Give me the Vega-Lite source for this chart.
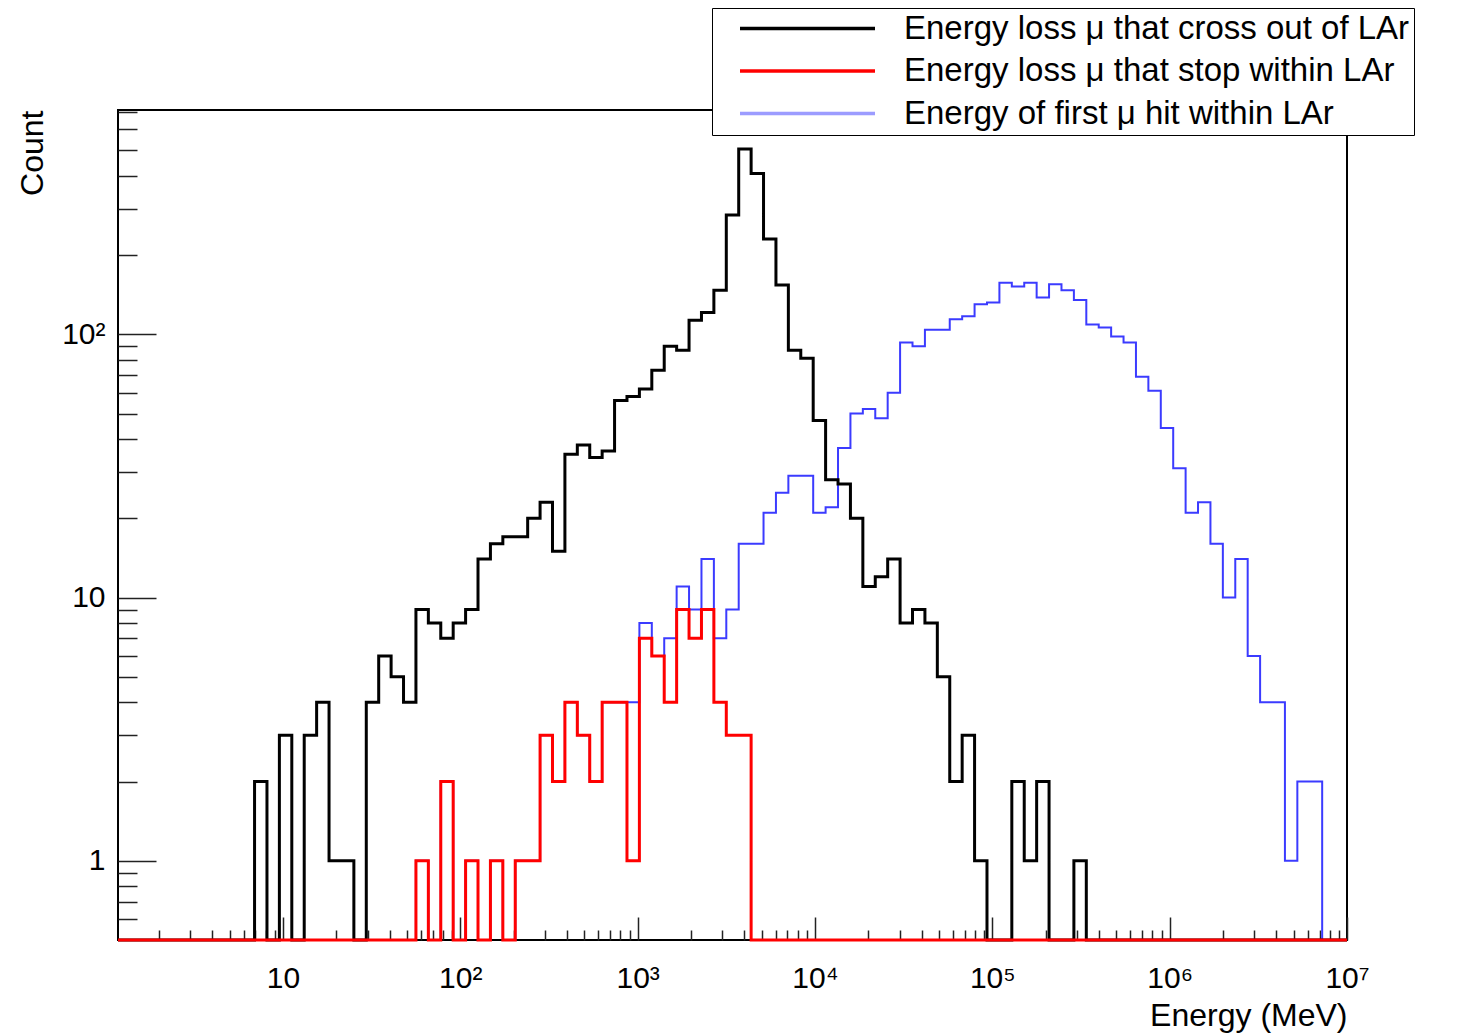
{
  "$schema": "https://vega.github.io/schema/vega-lite/v6.json",
  "width": 1229,
  "height": 830,
  "autosize": {"type": "none"},
  "padding": {"left": 118, "top": 110, "right": 122, "bottom": 93},
  "background": "white",
  "config": {"view": {"stroke": "#000", "strokeWidth": 2}, "font": "Liberation Sans"},
  "datasets": {
    "names": [
      {"key": "cross", "series": "Energy loss μ that cross out of LAr"},
      {"key": "stop", "series": "Energy loss μ that stop within LAr"},
      {"key": "first", "series": "Energy of first μ hit within LAr"}
    ],
    "bins": [
      {"lo": 1.1749, "hi": 1.3804, "cross": 0, "stop": 0, "first": 0},
      {"lo": 1.3804, "hi": 1.6218, "cross": 0, "stop": 0, "first": 0},
      {"lo": 1.6218, "hi": 1.9055, "cross": 0, "stop": 0, "first": 0},
      {"lo": 1.9055, "hi": 2.2387, "cross": 0, "stop": 0, "first": 0},
      {"lo": 2.2387, "hi": 2.6303, "cross": 0, "stop": 0, "first": 0},
      {"lo": 2.6303, "hi": 3.0903, "cross": 0, "stop": 0, "first": 0},
      {"lo": 3.0903, "hi": 3.6308, "cross": 0, "stop": 0, "first": 0},
      {"lo": 3.6308, "hi": 4.2658, "cross": 0, "stop": 0, "first": 0},
      {"lo": 4.2658, "hi": 5.0119, "cross": 0, "stop": 0, "first": 0},
      {"lo": 5.0119, "hi": 5.8884, "cross": 0, "stop": 0, "first": 0},
      {"lo": 5.8884, "hi": 6.9183, "cross": 0, "stop": 0, "first": 0},
      {"lo": 6.9183, "hi": 8.1283, "cross": 2, "stop": 0, "first": 0},
      {"lo": 8.1283, "hi": 9.5499, "cross": 0, "stop": 0, "first": 0},
      {"lo": 9.5499, "hi": 11.22, "cross": 3, "stop": 0, "first": 0},
      {"lo": 11.22, "hi": 13.183, "cross": 0, "stop": 0, "first": 0},
      {"lo": 13.183, "hi": 15.488, "cross": 3, "stop": 0, "first": 0},
      {"lo": 15.488, "hi": 18.197, "cross": 4, "stop": 0, "first": 0},
      {"lo": 18.197, "hi": 21.38, "cross": 1, "stop": 0, "first": 0},
      {"lo": 21.38, "hi": 25.119, "cross": 1, "stop": 0, "first": 0},
      {"lo": 25.119, "hi": 29.512, "cross": 0, "stop": 0, "first": 0},
      {"lo": 29.512, "hi": 34.674, "cross": 4, "stop": 0, "first": 0},
      {"lo": 34.674, "hi": 40.738, "cross": 6, "stop": 0, "first": 0},
      {"lo": 40.738, "hi": 47.863, "cross": 5, "stop": 0, "first": 0},
      {"lo": 47.863, "hi": 56.234, "cross": 4, "stop": 0, "first": 0},
      {"lo": 56.234, "hi": 66.069, "cross": 9, "stop": 1, "first": 1},
      {"lo": 66.069, "hi": 77.625, "cross": 8, "stop": 0, "first": 0},
      {"lo": 77.625, "hi": 91.201, "cross": 7, "stop": 2, "first": 2},
      {"lo": 91.201, "hi": 107.15, "cross": 8, "stop": 0, "first": 0},
      {"lo": 107.15, "hi": 125.89, "cross": 9, "stop": 1, "first": 1},
      {"lo": 125.89, "hi": 147.91, "cross": 14, "stop": 0, "first": 0},
      {"lo": 147.91, "hi": 173.78, "cross": 16, "stop": 1, "first": 1},
      {"lo": 173.78, "hi": 204.17, "cross": 17, "stop": 0, "first": 0},
      {"lo": 204.17, "hi": 239.88, "cross": 17, "stop": 1, "first": 1},
      {"lo": 239.88, "hi": 281.84, "cross": 20, "stop": 1, "first": 1},
      {"lo": 281.84, "hi": 331.13, "cross": 23, "stop": 3, "first": 3},
      {"lo": 331.13, "hi": 389.05, "cross": 15, "stop": 2, "first": 2},
      {"lo": 389.05, "hi": 457.09, "cross": 35, "stop": 4, "first": 4},
      {"lo": 457.09, "hi": 537.03, "cross": 38, "stop": 3, "first": 3},
      {"lo": 537.03, "hi": 630.96, "cross": 34, "stop": 2, "first": 2},
      {"lo": 630.96, "hi": 741.31, "cross": 36, "stop": 4, "first": 4},
      {"lo": 741.31, "hi": 870.96, "cross": 56, "stop": 4, "first": 4},
      {"lo": 870.96, "hi": 1023.3, "cross": 58, "stop": 1, "first": 4},
      {"lo": 1023.3, "hi": 1202.3, "cross": 62, "stop": 7, "first": 8},
      {"lo": 1202.3, "hi": 1412.5, "cross": 73, "stop": 6, "first": 6},
      {"lo": 1412.5, "hi": 1659.6, "cross": 90, "stop": 4, "first": 7},
      {"lo": 1659.6, "hi": 1949.8, "cross": 87, "stop": 9, "first": 11},
      {"lo": 1949.8, "hi": 2290.9, "cross": 113, "stop": 7, "first": 9},
      {"lo": 2290.9, "hi": 2691.5, "cross": 121, "stop": 9, "first": 14},
      {"lo": 2691.5, "hi": 3162.3, "cross": 147, "stop": 4, "first": 7},
      {"lo": 3162.3, "hi": 3715.4, "cross": 284, "stop": 3, "first": 9},
      {"lo": 3715.4, "hi": 4365.2, "cross": 506, "stop": 3, "first": 16},
      {"lo": 4365.2, "hi": 5128.6, "cross": 408, "stop": 0, "first": 16},
      {"lo": 5128.6, "hi": 6025.6, "cross": 230, "stop": 0, "first": 21},
      {"lo": 6025.6, "hi": 7079.5, "cross": 154, "stop": 0, "first": 25},
      {"lo": 7079.5, "hi": 8317.6, "cross": 87, "stop": 0, "first": 29},
      {"lo": 8317.6, "hi": 9772.4, "cross": 81, "stop": 0, "first": 29},
      {"lo": 9772.4, "hi": 11482, "cross": 47, "stop": 0, "first": 21},
      {"lo": 11482, "hi": 13490, "cross": 28, "stop": 0, "first": 22},
      {"lo": 13490, "hi": 15849, "cross": 27, "stop": 0, "first": 37},
      {"lo": 15849, "hi": 18621, "cross": 20, "stop": 0, "first": 50},
      {"lo": 18621, "hi": 21878, "cross": 11, "stop": 0, "first": 52},
      {"lo": 21878, "hi": 25704, "cross": 12, "stop": 0, "first": 48},
      {"lo": 25704, "hi": 30200, "cross": 14, "stop": 0, "first": 60},
      {"lo": 30200, "hi": 35481, "cross": 8, "stop": 0, "first": 93},
      {"lo": 35481, "hi": 41687, "cross": 9, "stop": 0, "first": 90},
      {"lo": 41687, "hi": 48978, "cross": 8, "stop": 0, "first": 104},
      {"lo": 48978, "hi": 57544, "cross": 5, "stop": 0, "first": 104},
      {"lo": 57544, "hi": 67608, "cross": 2, "stop": 0, "first": 114},
      {"lo": 67608, "hi": 79433, "cross": 3, "stop": 0, "first": 117},
      {"lo": 79433, "hi": 93325, "cross": 1, "stop": 0, "first": 130},
      {"lo": 93325, "hi": 109650, "cross": 0, "stop": 0, "first": 132},
      {"lo": 109650, "hi": 128825, "cross": 0, "stop": 0, "first": 157},
      {"lo": 128825, "hi": 151356, "cross": 2, "stop": 0, "first": 152},
      {"lo": 151356, "hi": 177828, "cross": 1, "stop": 0, "first": 157},
      {"lo": 177828, "hi": 208930, "cross": 2, "stop": 0, "first": 138},
      {"lo": 208930, "hi": 245471, "cross": 0, "stop": 0, "first": 155},
      {"lo": 245471, "hi": 288403, "cross": 0, "stop": 0, "first": 147},
      {"lo": 288403, "hi": 338844, "cross": 1, "stop": 0, "first": 135},
      {"lo": 338844, "hi": 398107, "cross": 0, "stop": 0, "first": 109},
      {"lo": 398107, "hi": 467735, "cross": 0, "stop": 0, "first": 106},
      {"lo": 467735, "hi": 549541, "cross": 0, "stop": 0, "first": 98},
      {"lo": 549541, "hi": 645654, "cross": 0, "stop": 0, "first": 93},
      {"lo": 645654, "hi": 758578, "cross": 0, "stop": 0, "first": 69},
      {"lo": 758578, "hi": 891251, "cross": 0, "stop": 0, "first": 61},
      {"lo": 891251, "hi": 1047129, "cross": 0, "stop": 0, "first": 44},
      {"lo": 1047129, "hi": 1230269, "cross": 0, "stop": 0, "first": 31},
      {"lo": 1230269, "hi": 1445440, "cross": 0, "stop": 0, "first": 21},
      {"lo": 1445440, "hi": 1698244, "cross": 0, "stop": 0, "first": 23},
      {"lo": 1698244, "hi": 1995262, "cross": 0, "stop": 0, "first": 16},
      {"lo": 1995262, "hi": 2344229, "cross": 0, "stop": 0, "first": 10},
      {"lo": 2344229, "hi": 2754229, "cross": 0, "stop": 0, "first": 14},
      {"lo": 2754229, "hi": 3235937, "cross": 0, "stop": 0, "first": 6},
      {"lo": 3235937, "hi": 3801894, "cross": 0, "stop": 0, "first": 4},
      {"lo": 3801894, "hi": 4466836, "cross": 0, "stop": 0, "first": 4},
      {"lo": 4466836, "hi": 5248075, "cross": 0, "stop": 0, "first": 1},
      {"lo": 5248075, "hi": 6165950, "cross": 0, "stop": 0, "first": 2},
      {"lo": 6165950, "hi": 7244360, "cross": 0, "stop": 0, "first": 2},
      {"lo": 7244360, "hi": 8511380, "cross": 0, "stop": 0, "first": 0},
      {"lo": 8511380, "hi": 10000000, "cross": 0, "stop": 0, "first": 0}
    ]
  },
  "data": {"name": "bins"},
  "transform": [
    {"fold": ["cross", "stop", "first"], "as": ["key", "count"]},
    {"lookup": "key", "from": {"data": {"name": "names"}, "key": "key", "fields": ["series"]}},
    {"fold": ["lo", "hi"], "as": ["edge", "E"]}
  ],
  "layer": [
    {
      "transform": [{"filter": "datum.key === 'first'"}],
      "mark": {"type": "line", "strokeWidth": 2, "invalid": "show", "strokeJoin": "miter"},
      "encoding": {
        "x": {"field": "E", "type": "quantitative",
          "scale": {"type": "log", "domain": [1.1749, 10000000], "nice": false, "clamp": true},
          "axis": {"orient": "bottom", "values": [10, 100, 1000, 10000, 100000, 1000000, 10000000],
            "tickSize": -23, "tickWidth": 1.5, "tickColor": "#222", "domain": false, "grid": false,
            "labelExpr": "datum.value == 10 ? '10' : datum.value == 100 ? '10²' : datum.value == 1000 ? '10³' : datum.value == 10000 ? '10⁴' : datum.value == 100000 ? '10⁵' : datum.value == 1000000 ? '10⁶' : '10⁷'",
            "labelFont": "Liberation Sans", "labelFontSize": 30, "labelColor": "#000", "labelPadding": 46,
            "labelFlush": false, "labelOverlap": false,
            "title": "Energy (MeV)", "titleFont": "Liberation Sans", "titleFontSize": 32, "titleFontWeight": "normal",
            "titleColor": "#000", "titleX": 1229, "titleY": 75, "titleAlign": "right", "titleBaseline": "middle"}},
        "y": {"field": "count", "type": "quantitative",
          "scale": {"type": "log", "domain": [0.5, 711], "nice": false, "clamp": true},
          "axis": {"orient": "left", "values": [1, 10, 100],
            "tickSize": -38, "tickWidth": 1.5, "tickColor": "#222", "domain": false, "grid": false,
            "labelExpr": "datum.value == 1 ? '1' : datum.value == 10 ? '10' : '10²'",
            "labelFont": "Liberation Sans", "labelFontSize": 30, "labelColor": "#000", "labelPadding": 51,
            "labelFlush": false, "labelOverlap": false,
            "title": "Count", "titleFont": "Liberation Sans", "titleFontSize": 32, "titleFontWeight": "normal",
            "titleColor": "#000", "titleX": -86, "titleY": 0, "titleAngle": 270, "titleAlign": "right", "titleBaseline": "middle"}},
        "color": {"field": "series", "type": "nominal",
          "scale": {"domain": ["Energy loss μ that cross out of LAr", "Energy loss μ that stop within LAr", "Energy of first μ hit within LAr"], "range": ["#000000", "#ff0000", "#3b3bff"]},
          "legend": {"orient": "none", "legendX": 594, "legendY": -102, "title": null,
            "symbolType": "M-6.75,0L6.75,0", "symbolSize": 400, "symbolStrokeWidth": 3.5, "symbolOffset": 75,
            "labelOffset": 80, "labelFontSize": 33, "labelFont": "Liberation Sans", "labelColor": "#000", "labelLimit": 2000,
            "rowPadding": 8.5, "padding": 4, "strokeColor": "#000", "fillColor": "#fff",
            "encode": {"symbols": {"update": {"opacity": {"signal": "datum.value === 'Energy of first μ hit within LAr' ? 0.5 : 1"}}}}}},
        "order": [{"field": "E", "type": "quantitative"}, {"field": "edge", "type": "nominal"}]
      }
    },
    {
      "transform": [{"filter": "datum.key === 'cross'"}],
      "mark": {"type": "line", "strokeWidth": 3, "invalid": "show", "strokeJoin": "miter"},
      "encoding": {
        "x": {"field": "E", "type": "quantitative",
          "scale": {"type": "log", "domain": [1.1749, 10000000], "nice": false, "clamp": true},
          "axis": {"orient": "bottom", "values": [2,3,4,5,6,7,8,9,20,30,40,50,60,70,80,90,200,300,400,500,600,700,800,900,2000,3000,4000,5000,6000,7000,8000,9000,20000,30000,40000,50000,60000,70000,80000,90000,200000,300000,400000,500000,600000,700000,800000,900000,2000000,3000000,4000000,5000000,6000000,7000000,8000000,9000000],
            "tickSize": -10, "tickWidth": 1.5, "tickColor": "#222", "domain": false, "grid": false, "labels": false, "title": null}},
        "y": {"field": "count", "type": "quantitative",
          "scale": {"type": "log", "domain": [0.5, 711], "nice": false, "clamp": true},
          "axis": {"orient": "left", "values": [0.6,0.7,0.8,0.9,2,3,4,5,6,7,8,9,20,30,40,50,60,70,80,90,200,300,400,500,600,700],
            "tickSize": -19, "tickWidth": 1.5, "tickColor": "#222", "domain": false, "grid": false, "labels": false, "title": null}},
        "color": {"field": "series", "type": "nominal",
          "scale": {"domain": ["Energy loss μ that cross out of LAr", "Energy loss μ that stop within LAr", "Energy of first μ hit within LAr"], "range": ["#000000", "#ff0000", "#3b3bff"]},
          "legend": {"orient": "none", "legendX": 594, "legendY": -102, "title": null,
            "symbolType": "M-6.75,0L6.75,0", "symbolSize": 400, "symbolStrokeWidth": 3.5, "symbolOffset": 75,
            "labelOffset": 80, "labelFontSize": 33, "labelFont": "Liberation Sans", "labelColor": "#000", "labelLimit": 2000,
            "rowPadding": 8.5, "padding": 4, "strokeColor": "#000", "fillColor": "#fff",
            "encode": {"symbols": {"update": {"opacity": {"signal": "datum.value === 'Energy of first μ hit within LAr' ? 0.5 : 1"}}}}}},
        "order": [{"field": "E", "type": "quantitative"}, {"field": "edge", "type": "nominal"}]
      }
    },
    {
      "transform": [{"filter": "datum.key === 'stop'"}],
      "mark": {"type": "line", "strokeWidth": 3, "invalid": "show", "strokeJoin": "miter"},
      "encoding": {
        "x": {"field": "E", "type": "quantitative",
          "scale": {"type": "log", "domain": [1.1749, 10000000], "nice": false, "clamp": true}, "axis": null},
        "y": {"field": "count", "type": "quantitative",
          "scale": {"type": "log", "domain": [0.5, 711], "nice": false, "clamp": true}, "axis": null},
        "color": {"field": "series", "type": "nominal",
          "scale": {"domain": ["Energy loss μ that cross out of LAr", "Energy loss μ that stop within LAr", "Energy of first μ hit within LAr"], "range": ["#000000", "#ff0000", "#3b3bff"]},
          "legend": {"orient": "none", "legendX": 594, "legendY": -102, "title": null,
            "symbolType": "M-6.75,0L6.75,0", "symbolSize": 400, "symbolStrokeWidth": 3.5, "symbolOffset": 75,
            "labelOffset": 80, "labelFontSize": 33, "labelFont": "Liberation Sans", "labelColor": "#000", "labelLimit": 2000,
            "rowPadding": 8.5, "padding": 4, "strokeColor": "#000", "fillColor": "#fff",
            "encode": {"symbols": {"update": {"opacity": {"signal": "datum.value === 'Energy of first μ hit within LAr' ? 0.5 : 1"}}}}}},
        "order": [{"field": "E", "type": "quantitative"}, {"field": "edge", "type": "nominal"}]
      }
    }
  ],
  "resolve": {"axis": {"x": "independent", "y": "independent"}}
}
